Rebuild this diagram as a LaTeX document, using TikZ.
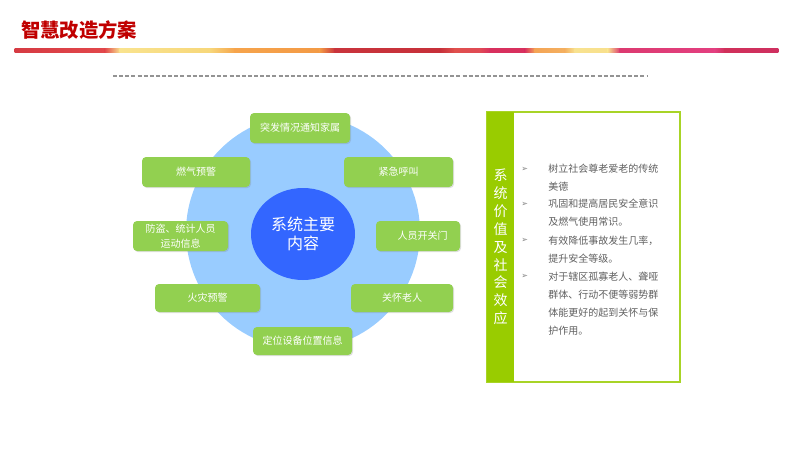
\documentclass[tikz,border=0pt]{standalone}
\usepackage{fontspec}
\setmainfont{Noto Sans CJK SC}
\newfontfamily\symfont{DejaVu Sans}
\usetikzlibrary{shapes.geometric,shadows}
\definecolor{titlered}{HTML}{C00000}
\definecolor{ringblue}{HTML}{99CCFF}
\definecolor{coreblue}{HTML}{3366FF}
\definecolor{boxgreen}{HTML}{92D050}
\definecolor{bargreen}{HTML}{99CC00}
\definecolor{txtgray}{HTML}{5F5F5F}
\tikzset{
  gbox/.style={rectangle, rounded corners=3pt, fill=boxgreen, text=white, inner sep=0pt,
    font=\fontsize{7.5}{10}\selectfont, align=center, minimum height=22.5pt,
    drop shadow={shadow xshift=0.8pt, shadow yshift=-0.8pt, opacity=0.25}},
  itemtxt/.style={anchor=north west, inner sep=0pt, text=txtgray, align=left,
    font=\fontsize{7.5}{13.5}\selectfont},
  marker/.style={anchor=north west, inner sep=0pt, text=txtgray!80, font=\symfont\fontsize{6}{7}\selectfont},
}
\begin{document}
\begin{tikzpicture}[x=0.75pt,y=-0.75pt]
\useasboundingbox (0,0) rectangle (800,450);
% title
\node[anchor=west, inner sep=0pt, text=titlered, font=\fontsize{14.5}{16}\selectfont\bfseries] (title) at (21,30) {智慧改造方案};
% colour band
\def\bandstops{15/D63B43/105/E2474B, 105/E2474B/120/F9E38E, 120/F9E38E/210/F7D77A, 210/F7D77A/235/F6A44C,
  235/F6A44C/320/F39A45, 320/F39A45/335/C9343C, 335/C9343C/440/C7303A, 440/C7303A/455/E0504D,
  455/E0504D/480/E04A55, 480/E04A55/490/D8305E, 490/D8305E/525/D8305E, 525/D8305E/535/F4A455,
  535/F4A455/565/F4B060, 565/F4B060/575/F8E290, 575/F8E290/608/F8E08C, 608/F8E08C/620/DC3A70,
  620/DC3A70/715/E33F80, 715/E33F80/725/D0305A, 725/D0305A/778/CF3060}
\foreach \xa/\ca/\xb/\cb in \bandstops {
  \definecolor{cA}{HTML}{\ca}\definecolor{cB}{HTML}{\cb}
  \shade[left color=cA, right color=cB] (\xa-0.3,48) rectangle (\xb+0.3,52);
}
% dashed rule
\coordinate (dl) at (113,76);
\coordinate (dr) at (648,76);
\draw[gray!85, line width=1.1pt, dash pattern=on 3pt off 1.6pt] (dl) -- (dr);
% circles
\node[circle, fill=ringblue, minimum size=175.5pt, inner sep=0pt] (ring) at (303,232) {};
\node[ellipse, fill=coreblue, minimum width=78pt, minimum height=69pt, inner sep=0pt,
  text=white, align=center, font=\fontsize{12}{14.5}\selectfont] (core) at (303,234) {系统主要\\内容};
% boxes
\node[gbox, minimum width=75pt] (b1) at (300,128) {突发情况通知家属};
\node[gbox, minimum width=81pt] (b2) at (196,172) {燃气预警};
\node[gbox, minimum width=81.75pt] (b3) at (398.5,172) {紧急呼叫};
\node[gbox, minimum width=71.25pt, font=\fontsize{7.5}{11}\selectfont] (b4) at (180.5,236) {防盗、统计人员\\运动信息};
\node[gbox, minimum width=63pt] (b5) at (418,236) {\hspace*{7pt}人员开关门};
\node[gbox, minimum width=78.75pt, minimum height=21pt] (b6) at (207.5,298) {火灾预警};
\node[gbox, minimum width=76.5pt, minimum height=21pt] (b7) at (402,298) {关怀老人};
\node[gbox, minimum width=74.25pt, minimum height=21pt] (b8) at (302.5,341) {定位设备位置信息};
% right panel
\node[draw=bargreen!85, line width=1.2pt, minimum width=144.75pt, minimum height=202.5pt, inner sep=0pt] (panel) at (583.5,247) {};
\node[fill=bargreen, minimum width=20.25pt, minimum height=202.5pt, inner sep=0pt] (bar) at (500.5,247) {};
\node[text=white, inner sep=0pt, font=\fontsize{10.5}{13.4}\selectfont, align=center] (vtext) at (500.5,247)
  {系\\统\\价\\值\\及\\社\\会\\效\\应};
% bullets
\node[marker] (m1) at (521,166.5) {➢};
\node[marker] (m2) at (521,201.5) {➢};
\node[marker] (m3) at (521,238) {➢};
\node[marker] (m4) at (521,274) {➢};
\node[itemtxt] (i1) at (548,164) {树立社会尊老爱老的传统\\美德};
\node[itemtxt] (i2) at (548,199) {巩固和提高居民安全意识\\及燃气使用常识。};
\node[itemtxt] (i3) at (548,235.5) {有效降低事故发生几率，\\提升安全等级。};
\node[itemtxt] (i4) at (548,271.5) {对于辖区孤寡老人、聋哑\\群体、行动不便等弱势群\\体能更好的起到关怀与保\\护作用。};
\end{tikzpicture}
\end{document}
